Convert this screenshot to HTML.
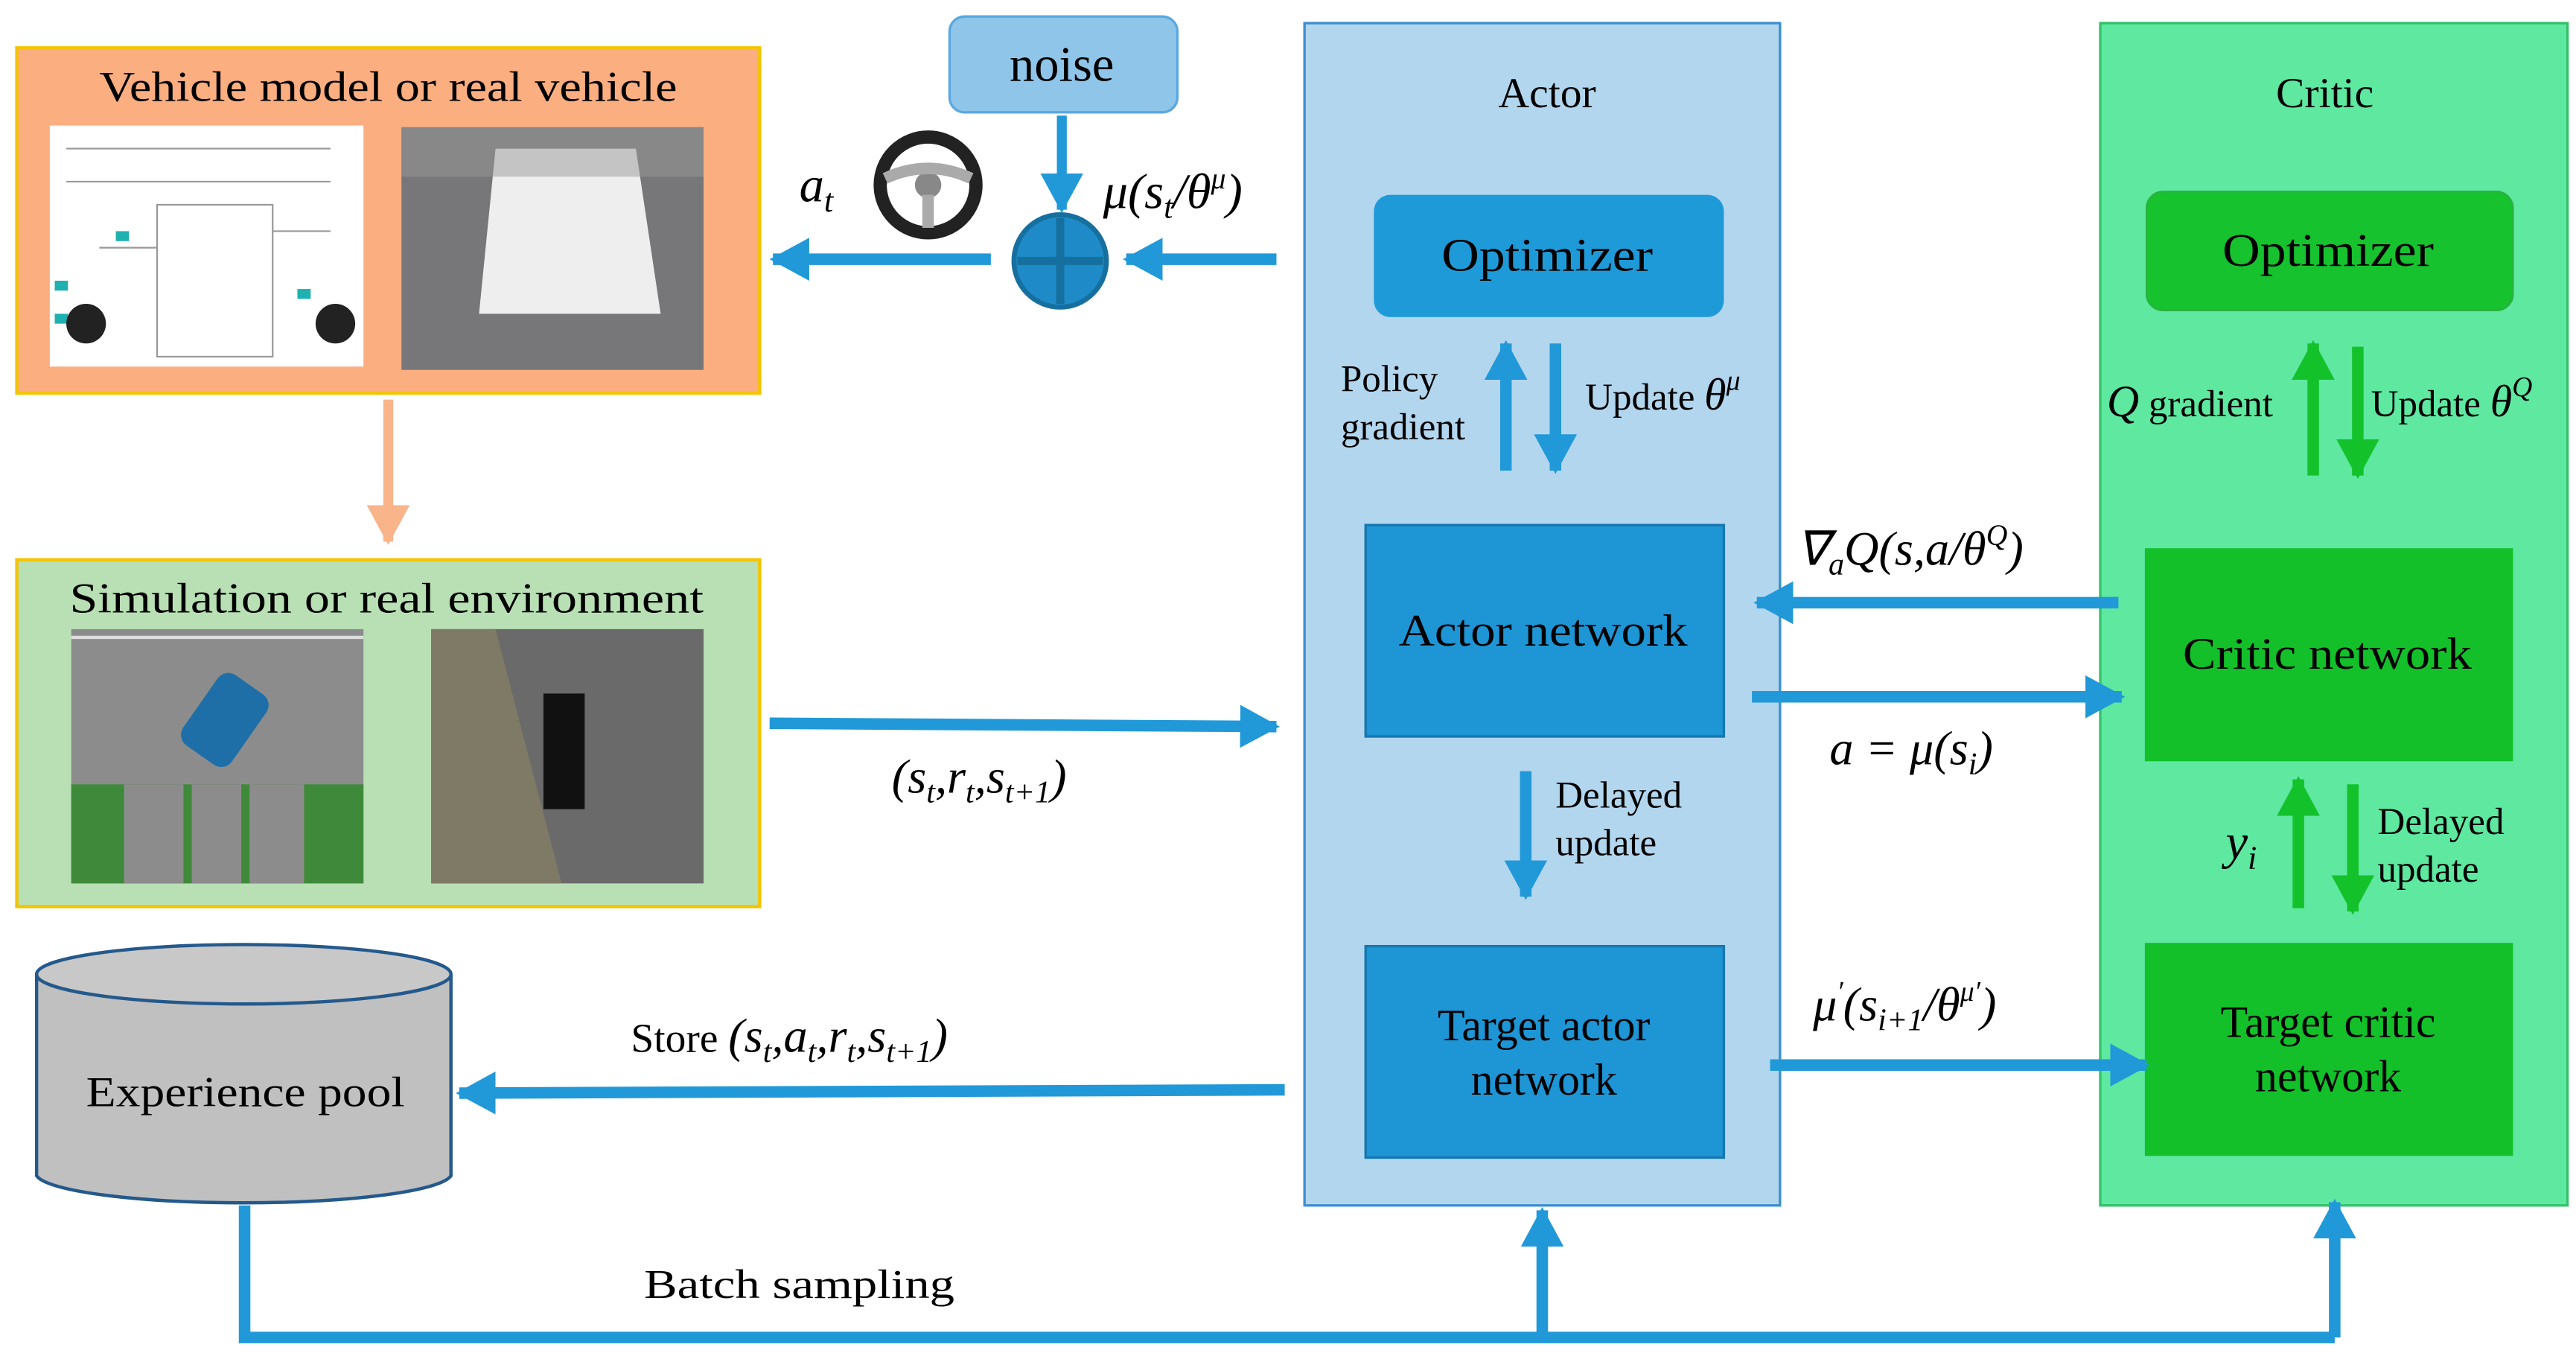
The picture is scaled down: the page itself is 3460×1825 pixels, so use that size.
<!DOCTYPE html>
<html><head><meta charset="utf-8"><style>html,body{margin:0;padding:0;background:#fff}svg{display:block}</style></head><body>
<svg width="3460" height="1825" viewBox="0 0 1560 823" xmlns="http://www.w3.org/2000/svg" font-family="Liberation Serif, serif">
<defs>
<marker id="b" markerUnits="userSpaceOnUse" markerWidth="26" markerHeight="26" refX="22" refY="13" orient="auto"><path d="M0,0 L24,13 L0,26 Z" fill="#2199d8"/></marker>
<marker id="g" markerUnits="userSpaceOnUse" markerWidth="26" markerHeight="26" refX="22" refY="13" orient="auto"><path d="M0,0 L24,13 L0,26 Z" fill="#13c22b"/></marker>
<marker id="o" markerUnits="userSpaceOnUse" markerWidth="26" markerHeight="26" refX="22" refY="13" orient="auto"><path d="M0,0 L24,13 L0,26 Z" fill="#f9b48a"/></marker>
</defs>
<rect x="10" y="29" width="450" height="209" fill="#fbae80" stroke="#f5c400" stroke-width="2"/>
<text x="60" y="61" font-size="26" textLength="350" lengthAdjust="spacingAndGlyphs">Vehicle model or real vehicle</text>
<rect x="30" y="76" width="190" height="146" fill="#fff"/>
<g stroke="#999" stroke-width="1" fill="none"><rect x="95" y="124" width="70" height="92"/><line x1="40" y1="90" x2="200" y2="90"/><line x1="40" y1="110" x2="200" y2="110"/><line x1="60" y1="150" x2="95" y2="150"/><line x1="165" y1="140" x2="200" y2="140"/></g>
<g fill="#1fb0b0"><rect x="33" y="170" width="8" height="6"/><rect x="33" y="190" width="8" height="6"/><rect x="180" y="175" width="8" height="6"/><rect x="70" y="140" width="8" height="6"/></g>
<circle cx="52" cy="196" r="12" fill="#222"/><circle cx="203" cy="196" r="12" fill="#222"/>
<rect x="243" y="77" width="183" height="147" fill="#777779"/>
<path d="M300 90 L385 90 L400 190 L290 190 Z" fill="#eeeeee"/>
<rect x="243" y="77" width="183" height="30" fill="#9a9a9a" opacity="0.5"/>
<line x1="235" y1="242" x2="235" y2="328" stroke="#f9b48a" stroke-width="6" marker-end="url(#o)"/>
<rect x="10" y="339" width="450" height="210" fill="#b9e0b5" stroke="#f5c400" stroke-width="2"/>
<text x="42" y="371" font-size="26" textLength="384" lengthAdjust="spacingAndGlyphs">Simulation or real environment</text>
<rect x="43" y="381" width="177" height="154" fill="#8c8c8c"/>
<rect x="43" y="475" width="177" height="60" fill="#3f8a3a"/>
<g fill="#8c8c8c"><rect x="75" y="475" width="36" height="60"/><rect x="116" y="475" width="30" height="60"/><rect x="151" y="475" width="33" height="60"/></g>
<g stroke="#ddd" stroke-width="2"><line x1="43" y1="386" x2="220" y2="386"/></g>
<rect x="118" y="410" width="36" height="52" rx="8" fill="#1e6fa8" transform="rotate(35 136 436)"/>
<rect x="261" y="381" width="165" height="154" fill="#6a6a6a"/>
<path d="M261 381 L300 381 L340 535 L261 535 Z" fill="#7f7a66"/>
<rect x="329" y="420" width="25" height="70" fill="#111"/>
<path d="M22 590 L22 712 A126 18 0 0 0 273 712 L273 590" fill="#c0c0c0" stroke="#24598c" stroke-width="2"/>
<ellipse cx="147.5" cy="590" rx="125.5" ry="18" fill="#c8c8c8" stroke="#24598c" stroke-width="2"/>
<text x="52" y="670" font-size="26" textLength="193" lengthAdjust="spacingAndGlyphs">Experience pool</text>
<rect x="575" y="10" width="138" height="58" rx="9" fill="#8fc5e9" stroke="#5aa8e0" stroke-width="1.5"/>
<text x="643" y="49" font-size="30" text-anchor="middle">noise</text>
<line x1="643" y1="70" x2="643" y2="127" stroke="#2199d8" stroke-width="6" marker-end="url(#b)"/>
<circle cx="642" cy="158" r="28" fill="#1e8bc8" stroke="#16709f" stroke-width="3"/>
<line x1="616" y1="158" x2="668" y2="158" stroke="#16709f" stroke-width="5"/><line x1="642" y1="132" x2="642" y2="184" stroke="#16709f" stroke-width="5"/>
<line x1="773" y1="157" x2="682" y2="157" stroke="#2199d8" stroke-width="7" marker-end="url(#b)"/>
<line x1="600" y1="157" x2="468" y2="157" stroke="#2199d8" stroke-width="7" marker-end="url(#b)"/>
<text x="484" y="122" font-size="30" font-style="italic">a<tspan font-size="20" dy="6">t</tspan></text>
<circle cx="562" cy="112" r="29" fill="none" stroke="#222" stroke-width="8"/><circle cx="562" cy="112" r="8" fill="#888"/>
<path d="M536 108 Q562 96 588 108" stroke="#aaa" stroke-width="7" fill="none"/><line x1="562" y1="118" x2="562" y2="138" stroke="#aaa" stroke-width="7"/>
<text x="668" y="126" font-size="30" font-style="italic">μ(s<tspan font-size="20" dy="6">t</tspan><tspan dy="-6">/θ</tspan><tspan font-size="18" dy="-12">μ</tspan><tspan dy="12">)</tspan></text>
<rect x="790" y="14" width="288" height="716" fill="#b3d6ef" stroke="#3b8fd0" stroke-width="1.5"/>
<text x="937" y="65" font-size="26" text-anchor="middle">Actor</text>
<rect x="832" y="118" width="212" height="74" rx="10" fill="#1f9ad8"/>
<text x="873" y="164" font-size="28" textLength="128" lengthAdjust="spacingAndGlyphs">Optimizer</text>
<text x="812" y="237" font-size="23">Policy</text><text x="812" y="266" font-size="23">gradient</text>
<line x1="912" y1="285" x2="912" y2="208" stroke="#2199d8" stroke-width="7" marker-end="url(#b)"/>
<line x1="942" y1="208" x2="942" y2="285" stroke="#2199d8" stroke-width="7" marker-end="url(#b)"/>
<text x="960" y="248" font-size="23">Update <tspan font-style="italic" font-size="27">θ</tspan><tspan font-style="italic" font-size="17" dy="-12">μ</tspan></text>
<rect x="827" y="318" width="217" height="128" fill="#1e95d5" stroke="#1577b0" stroke-width="1.5"/>
<text x="847" y="391" font-size="27" textLength="175" lengthAdjust="spacingAndGlyphs">Actor network</text>
<line x1="924" y1="467" x2="924" y2="543" stroke="#2199d8" stroke-width="7" marker-end="url(#b)"/>
<text x="942" y="489" font-size="23">Delayed</text><text x="942" y="518" font-size="23">update</text>
<rect x="827" y="573" width="217" height="128" fill="#1e95d5" stroke="#1577b0" stroke-width="1.5"/>
<text x="935" y="630" font-size="27" text-anchor="middle">Target actor</text><text x="935" y="663" font-size="27" text-anchor="middle">network</text>
<rect x="1272" y="14" width="283" height="716" fill="#5ee8a0" stroke="#33c26a" stroke-width="1.5"/>
<text x="1408" y="65" font-size="26" text-anchor="middle">Critic</text>
<rect x="1300" y="116" width="222" height="72" rx="10" fill="#16c22e" stroke="#2bb040"/>
<text x="1346" y="161" font-size="28" textLength="128" lengthAdjust="spacingAndGlyphs">Optimizer</text>
<text x="1276" y="252" font-size="23"><tspan font-style="italic" font-size="27">Q</tspan> gradient</text>
<line x1="1401" y1="288" x2="1401" y2="208" stroke="#13c22b" stroke-width="7" marker-end="url(#g)"/>
<line x1="1428" y1="210" x2="1428" y2="288" stroke="#13c22b" stroke-width="7" marker-end="url(#g)"/>
<text x="1436" y="252" font-size="23">Update <tspan font-style="italic" font-size="27">θ</tspan><tspan font-style="italic" font-size="17" dy="-12">Q</tspan></text>
<rect x="1299" y="332" width="223" height="129" fill="#13c02a"/>
<text x="1322" y="405" font-size="27" textLength="175" lengthAdjust="spacingAndGlyphs">Critic network</text>
<line x1="1392" y1="550" x2="1392" y2="472" stroke="#13c22b" stroke-width="7" marker-end="url(#g)"/>
<line x1="1425" y1="475" x2="1425" y2="552" stroke="#13c22b" stroke-width="7" marker-end="url(#g)"/>
<text x="1348" y="520" font-size="30" font-style="italic">y<tspan font-size="20" dy="6">i</tspan></text>
<text x="1440" y="505" font-size="23">Delayed</text><text x="1440" y="534" font-size="23">update</text>
<rect x="1299" y="571" width="223" height="129" fill="#13c02a"/>
<text x="1410" y="628" font-size="27" text-anchor="middle">Target critic</text><text x="1410" y="661" font-size="27" text-anchor="middle">network</text>
<line x1="1283" y1="365" x2="1064" y2="365" stroke="#2199d8" stroke-width="7" marker-end="url(#b)"/>
<text x="1088" y="342" font-size="29" font-style="italic">∇<tspan font-size="19" dy="6">a</tspan><tspan dy="-6">Q(s,a/θ</tspan><tspan font-size="18" dy="-12">Q</tspan><tspan dy="12">)</tspan></text>
<line x1="1061" y1="422" x2="1285" y2="422" stroke="#2199d8" stroke-width="7" marker-end="url(#b)"/>
<text x="1108" y="463" font-size="29" font-style="italic">a = μ(s<tspan font-size="19" dy="6">i</tspan><tspan dy="-6">)</tspan></text>
<line x1="1072" y1="645" x2="1300" y2="645" stroke="#2199d8" stroke-width="7" marker-end="url(#b)"/>
<text x="1098" y="618" font-size="29" font-style="italic">μ<tspan font-size="17" dy="-12">′</tspan><tspan dy="12">(s</tspan><tspan font-size="19" dy="6">i+1</tspan><tspan dy="-6">/θ</tspan><tspan font-size="17" dy="-12">μ′</tspan><tspan dy="12">)</tspan></text>
<line x1="466" y1="438" x2="773" y2="440" stroke="#2199d8" stroke-width="7" marker-end="url(#b)"/>
<text x="540" y="480" font-size="29" font-style="italic">(s<tspan font-size="19" dy="6">t</tspan><tspan dy="-6">,r</tspan><tspan font-size="19" dy="6">t</tspan><tspan dy="-6">,s</tspan><tspan font-size="19" dy="6">t+1</tspan><tspan dy="-6">)</tspan></text>
<line x1="778" y1="660" x2="278" y2="662" stroke="#2199d8" stroke-width="7" marker-end="url(#b)"/>
<text x="382" y="637" font-size="25">Store <tspan font-style="italic" font-size="29">(s</tspan><tspan font-style="italic" font-size="19" dy="6">t</tspan><tspan font-style="italic" font-size="29" dy="-6">,a</tspan><tspan font-style="italic" font-size="19" dy="6">t</tspan><tspan font-style="italic" font-size="29" dy="-6">,r</tspan><tspan font-style="italic" font-size="19" dy="6">t</tspan><tspan font-style="italic" font-size="29" dy="-6">,s</tspan><tspan font-style="italic" font-size="19" dy="6">t+1</tspan><tspan font-style="italic" font-size="29" dy="-6">)</tspan></text>
<polyline points="148,730 148,810 1414,810" fill="none" stroke="#2199d8" stroke-width="7"/>
<line x1="934" y1="810" x2="934" y2="733" stroke="#2199d8" stroke-width="7" marker-end="url(#b)"/>
<line x1="1414" y1="810" x2="1414" y2="728" stroke="#2199d8" stroke-width="7" marker-end="url(#b)"/>
<text x="390" y="786" font-size="25" textLength="188" lengthAdjust="spacingAndGlyphs">Batch sampling</text>
</svg>
</body></html>
